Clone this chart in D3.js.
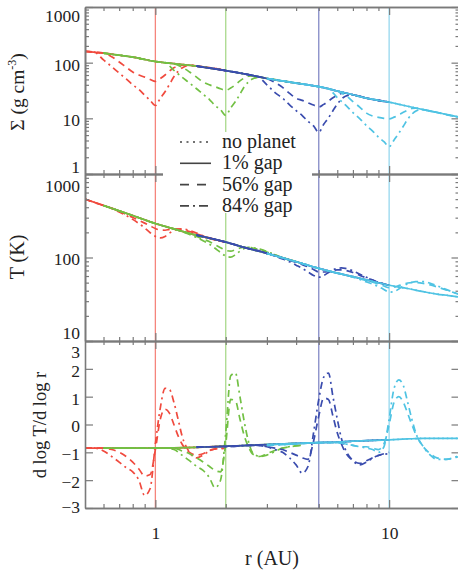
<!DOCTYPE html>
<html>
<head>
<meta charset="utf-8">
<script src="https://cdn.jsdelivr.net/npm/d3@7"></script>
<style>
body { margin: 0; background: #fff; }
svg text { fill: #222; }
</style>
</head>
<body>
<script>
// ===== data =====
const planetR = [1, 2, 5, 10];

// unperturbed disk (no planet)
const rBase = [0.5, 0.6, 0.7, 0.8, 1, 1.2, 1.5, 2, 2.5, 3, 4, 5, 6, 7, 8, 10, 12, 14, 16, 18, 20];
const sigBase = [160, 148, 136, 126, 105, 96, 87, 72, 61, 52, 43, 37, 31, 26.5, 23, 19.5, 16.5, 14.3, 12.8, 11.5, 10.5];
const tBase = [500, 420, 362, 318, 255, 220, 185, 153, 128, 112, 89, 74, 65, 59, 54, 46.5, 42.5, 39, 36.5, 35, 33.5];
const slopeBase = [-0.85, -0.85, -0.85, -0.85, -0.85, -0.84, -0.82, -0.78, -0.75, -0.72, -0.68, -0.65, -0.63, -0.6, -0.58, -0.55, -0.52, -0.5, -0.5, -0.5, -0.5];

// planet at 1 AU
const rRed = [0.5, 0.55, 0.6, 0.65, 0.7, 0.75, 0.8, 0.85, 0.9, 0.95, 1.0, 1.05, 1.1, 1.15, 1.2, 1.25, 1.3, 1.4, 1.5, 1.6, 1.75, 2.0];
const sig56Red = [160, 154, 148, 128, 103, 83, 68, 60, 55, 50, 46, 52, 60, 71, 81, 87, 90, 90, 87, 84, 80, 72];
const sig84Red = [160, 154, 112, 85, 65, 51, 40, 33, 26, 21, 17, 23, 30, 41, 56, 70, 80, 90, 87, 84, 80, 72];
const t56Red = [500, 455, 420, 390, 358, 328, 302, 279, 258, 239, 222, 213, 212, 217, 220, 219, 216, 205, 192, 181, 166, 153];
const t84Red = [500, 455, 420, 386, 351, 318, 286, 255, 226, 198, 179, 172, 179, 196, 211, 219, 220, 211, 196, 182, 168, 153];
const s56Red = [-0.85, -0.85, -0.85, -0.9, -1.0, -1.15, -1.35, -1.6, -1.85, -1.8, -0.9, 0.2, 0.55, 0.4, 0.0, -0.4, -0.7, -1.0, -1.1, -1.05, -0.9, -0.85];
const s84Red = [-0.85, -0.85, -0.95, -1.15, -1.35, -1.55, -1.7, -2.0, -2.55, -2.3, -0.7, 0.6, 1.3, 1.25, 0.8, 0.2, -0.4, -1.0, -1.2, -1.1, -0.9, -0.85];

// planet at 2 AU
const rGreen = [0.6, 0.8, 1.0, 1.1, 1.2, 1.3, 1.4, 1.5, 1.6, 1.7, 1.8, 1.9, 2.0, 2.1, 2.2, 2.3, 2.4, 2.5, 2.6, 2.8, 3.0, 3.2, 3.5, 4.2];
const sig56Green = [148, 126, 105, 100, 96, 83, 68, 55, 45, 40, 37, 34, 32, 35, 40, 47, 53, 57, 58, 55, 52, 50, 47, 42];
const sig84Green = [148, 126, 105, 100, 73, 55, 43, 34, 27, 22, 17, 14.3, 11.3, 15.4, 20, 27, 37, 45, 51, 55, 52, 50, 47, 42];
const t56Green = [420, 318, 255, 236, 220, 206, 193, 179, 166, 155, 142, 131, 122, 119, 124, 130, 133, 133, 130, 124, 116, 109, 99, 86];
const t84Green = [420, 318, 255, 236, 220, 204, 189, 174, 159, 145, 129, 115, 104, 101, 108, 119, 128, 132, 131, 126, 118, 110, 100, 86];
const s56Green = [-0.85, -0.85, -0.85, -0.85, -0.85, -0.95, -1.05, -1.2, -1.35, -1.5, -1.65, -1.7, -0.7, 0.9, 0.85, 0.2, -0.4, -0.8, -1.05, -1.15, -1.05, -0.95, -0.85, -0.75];
const s84Green = [-0.85, -0.85, -0.85, -0.85, -0.9, -1.1, -1.3, -1.5, -1.65, -1.9, -2.27, -2.0, -0.3, 1.75, 1.85, 1.0, 0.1, -0.6, -1.0, -1.15, -1.1, -1.0, -0.85, -0.75];

// planet at 5 AU
const rBlue = [1.5, 2, 2.5, 2.75, 3, 3.25, 3.5, 3.75, 4, 4.25, 4.5, 4.75, 5, 5.25, 5.5, 5.75, 6, 6.25, 6.5, 7, 7.5, 8, 8.75, 10];
const sig56Blue = [87, 72, 61, 56, 52, 44, 36, 28, 23, 21, 19, 17.3, 16, 17.8, 20.4, 23.4, 26, 28, 28.4, 26.5, 25, 23, 21.5, 19.5];
const sig84Blue = [87, 72, 61, 56, 40, 29, 23, 17.5, 13.8, 11.2, 8.8, 7.3, 5.6, 7.8, 10.2, 13.7, 18, 22, 25, 26.5, 25, 23, 21.5, 19.5];
const t56Blue = [185, 153, 128, 121, 112, 105, 99, 93, 87, 82, 77, 72, 67, 67, 68, 70, 71, 71, 70, 66, 61, 57, 52, 46.5];
const t84Blue = [185, 153, 128, 121, 112, 104, 96, 89, 81, 74, 67, 61, 58, 61, 66, 71, 74, 75, 74, 69, 63, 58, 52, 46.5];
const s56Blue = [-0.8, -0.8, -0.75, -0.75, -0.8, -0.85, -0.9, -1.0, -1.1, -1.2, -1.25, -0.6, 0.3, 0.95, 0.9, 0.3, -0.3, -0.7, -1.0, -1.3, -1.4, -1.3, -1.15, -1.0];
const s84Blue = [-0.8, -0.8, -0.75, -0.75, -0.8, -0.9, -1.0, -1.2, -1.45, -1.75, -1.5, -0.3, 0.9, 1.7, 1.85, 1.0, 0.2, -0.5, -0.9, -1.3, -1.45, -1.35, -1.15, -1.05];

// planet at 10 AU
const rCyan = [3, 4, 5, 5.5, 6, 6.5, 7, 7.5, 8, 8.5, 9, 9.5, 10, 10.5, 11, 11.5, 12, 12.5, 13, 14, 15, 16, 17.5, 20];
const sig56Cyan = [52, 43, 37, 34, 31, 26, 20, 15.8, 12.4, 11, 10.4, 10, 9.8, 10.5, 11.5, 12.8, 14, 15, 15.2, 14.3, 13.5, 12.8, 11.7, 10.5];
const sig84Cyan = [52, 43, 37, 34, 23.6, 17.4, 12.7, 9.8, 7.4, 5.9, 4.6, 3.8, 3.1, 4.1, 5.4, 7.2, 9.6, 11.8, 13.5, 14.3, 13.5, 12.8, 11.7, 10.5];
const t56Cyan = [112, 89, 74, 69, 65, 62, 58.5, 55.5, 53, 50.5, 48, 45.5, 43.5, 44, 46, 48, 49.5, 50, 50, 49, 47, 44.5, 41, 36];
const t84Cyan = [112, 89, 74, 69, 65, 61.5, 58, 54.5, 51, 48, 45, 41.5, 38.5, 39, 42, 45.5, 48.5, 50.5, 51.5, 51.5, 49, 46, 41.5, 36];
const s56Cyan = [-0.75, -0.7, -0.65, -0.65, -0.65, -0.7, -0.75, -0.8, -0.8, -0.85, -0.9, -0.7, 0.0, 0.8, 1.0, 0.8, 0.4, 0.0, -0.35, -0.8, -1.05, -1.2, -1.25, -1.15];
const s84Cyan = [-0.75, -0.7, -0.65, -0.65, -0.65, -0.7, -0.75, -0.8, -0.85, -0.9, -1.0, -0.8, 0.2, 1.3, 1.6, 1.4, 0.8, 0.2, -0.3, -0.8, -1.1, -1.25, -1.25, -1.1];

// ticks / labels
const xMajor = [1, 10];
const xMinor = [0.6, 0.7, 0.8, 0.9, 2, 3, 4, 5, 6, 7, 8, 9, 20];
const sigMajor = [1, 10, 100, 1000];
const sigMinor = [2, 3, 4, 5, 6, 7, 8, 9, 20, 30, 40, 50, 60, 70, 80, 90, 200, 300, 400, 500, 600, 700, 800, 900];
const tMajor = [10, 100, 1000];
const tMinor = [20, 30, 40, 50, 60, 70, 80, 90, 200, 300, 400, 500, 600, 700, 800, 900];
const slopeMajor = [-3, -2, -1, 0, 1, 2, 3];
const legendLabels = ["no planet", "1% gap", "56% gap", "84% gap"];

// ===== layout / style =====
const svgWidth = 458, svgHeight = 574;
const left = 85, right = 459.5;
const tickFont = 17.5, titleFont = 20;
const colors = ["#f04a3e", "#72c044", "#3a4cae", "#4fc3e3"];
const vColors = ["#f5857c", "#a9d98c", "#8389c6", "#96d7ee"];
const dashes = ["1.5,3", null, "7,5", "7,4,2,4"];
const axisColor = "#7a7a7a";

const svg = d3.select("body").append("svg")
	.attr("width", svgWidth)
	.attr("height", svgHeight)
	.attr("font-family", '"Liberation Serif", "Times New Roman", serif');

const xScale = d3.scaleLog().domain([0.5, 20]).range([left, right]);
const ySig = d3.scaleLog().domain([1, 1000]).range([174, 7]);
const yT = d3.scaleLog().domain([10, 1000]).range([341, 174]);
const ySlope = d3.scaleLinear().domain([-3, 3]).range([508, 341]);

const planets = [
	{ r: rRed, sig: [sig56Red, sig84Red], t: [t56Red, t84Red], s: [s56Red, s84Red] },
	{ r: rGreen, sig: [sig56Green, sig84Green], t: [t56Green, t84Green], s: [s56Green, s84Green] },
	{ r: rBlue, sig: [sig56Blue, sig84Blue], t: [t56Blue, t84Blue], s: [s56Blue, s84Blue] },
	{ r: rCyan, sig: [sig56Cyan, sig84Cyan], t: [t56Cyan, t84Cyan], s: [s56Cyan, s84Cyan] }
];

const panels = [
	{ y: ySig, key: "sig", base: sigBase, major: sigMajor, minor: sigMinor },
	{ y: yT, key: "t", base: tBase, major: tMajor, minor: tMinor },
	{ y: ySlope, key: "s", base: slopeBase, major: slopeMajor, minor: [] }
];

// clip to the plot area
svg.append("clipPath").attr("id", "plotclip")
	.append("rect").attr("x", left).attr("y", 7).attr("width", right - left).attr("height", 501);

//=====
// planet positions
//=====
svg.append("g")
	.selectAll("line")
	.data(planetR)
	.join("line")
	.attr("x1", (d) => xScale(d))
	.attr("x2", (d) => xScale(d))
	.attr("y1", 7)
	.attr("y2", 508)
	.attr("stroke", (d, i) => vColors[i])
	.attr("stroke-width", 1.3);

//=====
// curves
//=====
const curves = svg.append("g").attr("clip-path", "url(#plotclip)");
panels.forEach((p) => {
	const line = d3.line()
		.x((d) => xScale(d[0]))
		.y((d) => p.y(d[1]))
		.curve(d3.curveMonotoneX);
	const baseData = d3.zip(rBase, p.base);
	planets.forEach((pl, i) => {
		const lo = pl.r[0], hi = pl.r[pl.r.length - 1];
		const sub = baseData.filter((d) => d[0] >= lo && d[0] <= hi);
		const series = [sub, sub, d3.zip(pl.r, pl[p.key][0]), d3.zip(pl.r, pl[p.key][1])];
		series.forEach((s, j) => {
			curves.append("path")
				.datum(s)
				.attr("d", line)
				.attr("fill", "none")
				.attr("stroke", colors[i])
				.attr("stroke-width", 1.7)
				.attr("stroke-dasharray", dashes[j]);
		});
	});
});

//=====
// axes
//=====
function styleAxis(g) {
	g.attr("font-family", null);
	g.selectAll("path.domain").attr("stroke", axisColor).attr("stroke-width", 1.6);
	g.selectAll(".tick line").attr("stroke", axisColor).attr("stroke-width", 1.2);
	g.selectAll("text").attr("font-size", tickFont).attr("fill", "#222");
}

// per-label vertical nudges so stacked labels at panel joins don't collide
const labelDy = [
	{ 1000: "0.8em", 1: "-0.11em" },
	{ 1000: "1.0em", 10: "-0.17em" },
	{ 3: "0.94em", 2: "0.44em", "-3": "0.23em" }
];

panels.forEach((p, k) => {
	const [bot, top] = p.y.range();
	// left
	const gl = svg.append("g").attr("transform", `translate(${left},0)`)
		.call(d3.axisLeft(p.y).tickValues(p.major).tickSize(-8).tickSizeOuter(0).tickPadding(5).tickFormat(d3.format("d")));
	styleAxis(gl);
	gl.selectAll("text").attr("dy", (d) => labelDy[k][d] || "0.42em");
	if (p.minor.length) {
		styleAxis(svg.append("g").attr("transform", `translate(${left},0)`)
			.call(d3.axisLeft(p.y).tickValues(p.minor).tickSize(-4).tickSizeOuter(0).tickFormat("")));
	}
	// right
	styleAxis(svg.append("g").attr("transform", `translate(${right},0)`)
		.call(d3.axisRight(p.y).tickValues(p.major).tickSize(-8).tickSizeOuter(0).tickFormat("")));
	if (p.minor.length) {
		styleAxis(svg.append("g").attr("transform", `translate(${right},0)`)
			.call(d3.axisRight(p.y).tickValues(p.minor).tickSize(-4).tickSizeOuter(0).tickFormat("")));
	}
	// bottom and top
	[[bot, d3.axisBottom], [top, d3.axisTop]].forEach(([yy, ax]) => {
		const gb = svg.append("g").attr("transform", `translate(0,${yy})`)
			.call(ax(xScale).tickValues(xMajor).tickSize(-8).tickSizeOuter(0).tickPadding(19)
				.tickFormat(k === 2 && yy === bot ? d3.format("d") : ""));
		styleAxis(gb);
		styleAxis(svg.append("g").attr("transform", `translate(0,${yy})`)
			.call(ax(xScale).tickValues(xMinor).tickSize(-4).tickSizeOuter(0).tickFormat("")));
	});
});

//=====
// axis titles
//=====
svg.append("text")
	.attr("transform", "translate(24,92) rotate(-90)")
	.attr("text-anchor", "middle")
	.attr("font-size", titleFont - 0.5)
	.call((t) => {
		t.append("tspan").text("Σ (g cm");
		t.append("tspan").attr("font-size", 12).attr("dy", -8).text("-3");
		t.append("tspan").attr("dy", 8).text(")");
	});

svg.append("text")
	.attr("transform", "translate(24,257) rotate(-90)")
	.attr("text-anchor", "middle")
	.attr("font-size", titleFont)
	.text("T (K)");

svg.append("text")
	.attr("transform", "translate(46,425) rotate(-90)")
	.attr("text-anchor", "middle")
	.attr("font-size", titleFont - 1.5)
	.text("d log T/d log r");

svg.append("text")
	.attr("x", 272)
	.attr("y", 565)
	.attr("text-anchor", "middle")
	.attr("font-size", titleFont)
	.text("r (AU)");

//=====
// legend
//=====
svg.append("rect")
	.attr("x", 163).attr("y", 132)
	.attr("width", 149).attr("height", 81)
	.attr("fill", "#fff");

const legend = svg.append("g")
	.selectAll("g")
	.data(legendLabels)
	.join("g")
	.attr("transform", (d, i) => `translate(180,${142 + i * 21.3})`);

legend.append("line")
	.attr("x1", 0).attr("x2", 31)
	.attr("stroke", "#444")
	.attr("stroke-width", 1.6)
	.attr("stroke-dasharray", (d, i) => (i === 0 ? "2,4.5" : i === 2 ? "9,8" : i === 3 ? "9,4,2,4" : null));

legend.append("text")
	.attr("x", 42)
	.attr("y", 6)
	.attr("font-size", titleFont)
	.text((d) => d);
</script>
</body>
</html>
